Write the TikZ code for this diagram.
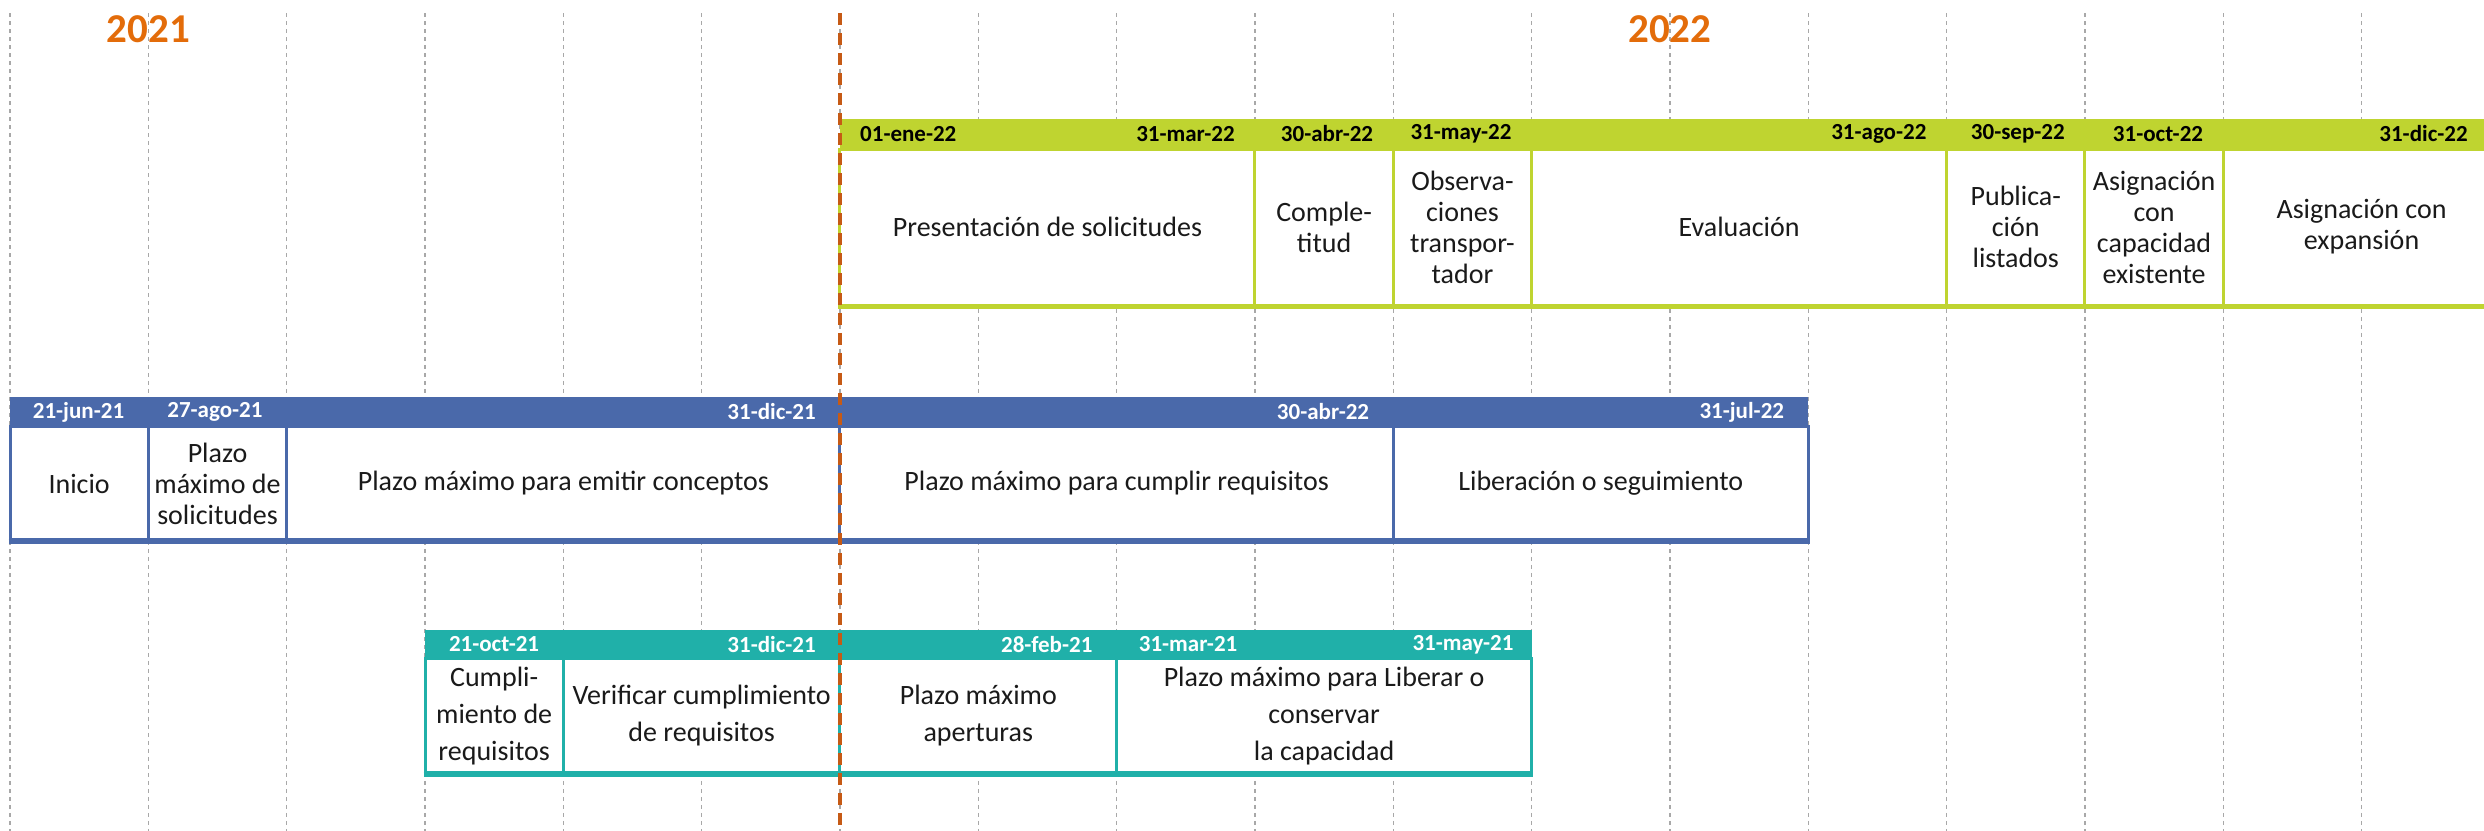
\documentclass[tikz,border=0pt]{standalone}
\usepackage{fontspec}
\setmainfont{Carlito}
\usetikzlibrary{positioning}

\definecolor{verde}{HTML}{BFD430}
\definecolor{azul}{HTML}{4A69AA}
\definecolor{turquesa}{HTML}{20B0A9}
\definecolor{naranja}{HTML}{E36C0A}
\definecolor{corte}{HTML}{C65A15}
\definecolor{rejilla}{HTML}{A8A8A8}
\definecolor{tinta}{HTML}{1A1A1A}

\newcommand{\anchomes}{138.33pt}

\tikzset{
  rejillames/.style={rejilla, line width=1.5pt, dash pattern=on 4pt off 4pt},
  fecha/.style={font=\fontsize{23}{26}\selectfont\bfseries, inner sep=0pt},
  celda/.style={font=\fontsize{28}{31}\selectfont, text=tinta, align=center,
    inner sep=0pt, fill=white, line width=3pt},
  cverde/.style={celda, draw=verde, minimum height=156pt},
  cazul/.style={celda, draw=azul, minimum height=113pt},
  cturquesa/.style={celda, draw=turquesa, minimum height=114pt,
    font=\fontsize{28}{37}\selectfont},
  anio/.style={font=\fontsize{41}{44}\selectfont\bfseries, text=naranja, inner sep=0pt},
}

\begin{document}
\begin{tikzpicture}[x=138.33pt,y=-1pt]
\useasboundingbox (-6.0725,0) rectangle (11.8851,831);

% rejilla de meses
\foreach \m in {-6,...,11}
  \draw[rejillames] (\m,13) -- (\m,831);

% años
\node[anio] (a2021) at (-5,29) {2021};
\node[anio] (a2022) at (6,29) {2022};

% fila verde
\fill[verde] (0,119) rectangle (12.3,149);
\node[cverde, minimum width=3*\anchomes] (presentacion) at (1.5,227) {Presentación de solicitudes};
\node[cverde, minimum width=\anchomes] (completitud) at (3.5,227) {Comple-\\titud};
\node[cverde, minimum width=\anchomes] (observaciones) at (4.5,227) {Observa-\\ciones\\transpor-\\tador};
\node[cverde, minimum width=3*\anchomes] (evaluacion) at (6.5,227) {Evaluación};
\node[cverde, minimum width=\anchomes] (publicacion) at (8.5,227) {Publica-\\ción\\listados};
\node[cverde, minimum width=\anchomes] (existente) at (9.5,227) {Asignación\\con\\capacidad\\existente};
\node[cverde, minimum width=2*\anchomes] (expansion) at (11,227) {Asignación con\\expansión};
\draw[verde, line width=5pt] (presentacion.south west) -- (expansion.south east);

\node[fecha, anchor=west, xshift=20pt] (f01ene) at (0,134) {01-ene-22};
\node[fecha, anchor=east, xshift=-20pt] (f31mar) at (3,134) {31-mar-22};
\node[fecha, anchor=east, xshift=-20pt] (f30abr) at (4,134) {30-abr-22};
\node[fecha, anchor=east, xshift=-20pt] (f31may) at (5,134) {31-may-22};
\node[fecha, anchor=east, xshift=-20pt] (f31ago) at (8,134) {31-ago-22};
\node[fecha, anchor=east, xshift=-20pt] (f30sep) at (9,134) {30-sep-22};
\node[fecha, anchor=east, xshift=-20pt] (f31oct) at (10,134) {31-oct-22};
\node[fecha, anchor=east, xshift=-32pt] (f31dic) at (12,134) {31-dic-22};

% fila azul
\fill[azul] (-6,397) rectangle (7,427);
\node[cazul, minimum width=\anchomes] (inicio) at (-5.5,483.5) {Inicio};
\node[cazul, minimum width=\anchomes] (solicitudes) at (-4.5,483.5) {Plazo\\máximo de\\solicitudes};
\node[cazul, minimum width=4*\anchomes] (conceptos) at (-2,483.5) {Plazo máximo para emitir conceptos};
\node[cazul, minimum width=4*\anchomes] (requisitos) at (2,483.5) {Plazo máximo para cumplir requisitos};
\node[cazul, minimum width=3*\anchomes] (liberacion) at (5.5,483.5) {Liberación o seguimiento};
\draw[azul, line width=5pt] (inicio.south west) -- (liberacion.south east);

\node[fecha, text=white, anchor=east, xshift=-24pt] (f21jun) at (-5,412) {21-jun-21};
\node[fecha, text=white, anchor=east, xshift=-24pt] (f27ago) at (-4,412) {27-ago-21};
\node[fecha, text=white, anchor=east, xshift=-24pt] (f31dicb) at (0,412) {31-dic-21};
\node[fecha, text=white, anchor=east, xshift=-24pt] (f30abrb) at (4,412) {30-abr-22};
\node[fecha, text=white, anchor=east, xshift=-24pt] (f31jul) at (7,412) {31-jul-22};

% fila turquesa
\fill[turquesa] (-3,630) rectangle (5,659);
\node[cturquesa, minimum width=\anchomes] (cumplimiento) at (-2.5,716) {Cumpli-\\miento de\\requisitos};
\node[cturquesa, minimum width=2*\anchomes] (verificar) at (-1,716) {Verificar cumplimiento\\de requisitos};
\node[cturquesa, minimum width=2*\anchomes] (aperturas) at (1,716) {Plazo máximo\\aperturas};
\node[cturquesa, minimum width=3*\anchomes] (capacidad) at (3.5,716) {Plazo máximo para Liberar o\\conservar\\la capacidad};
\draw[turquesa, line width=5pt] (cumplimiento.south west) -- (capacidad.south east);

\node[fecha, text=white, anchor=east, xshift=-24pt] (f21oct) at (-2,644.5) {21-oct-21};
\node[fecha, text=white, anchor=east, xshift=-24pt] (f31dicc) at (0,644.5) {31-dic-21};
\node[fecha, text=white, anchor=east, xshift=-24pt] (f28feb) at (2,644.5) {28-feb-21};
\node[fecha, text=white, anchor=west, xshift=22pt] (f31marc) at (2,644.5) {31-mar-21};
\node[fecha, text=white, anchor=east, xshift=-18pt] (f31mayc) at (5,644.5) {31-may-21};

% fin de año
\draw[corte, line width=3.5pt, dash pattern=on 12pt off 8pt] (0,13) -- (0,831);
\end{tikzpicture}
\end{document}
